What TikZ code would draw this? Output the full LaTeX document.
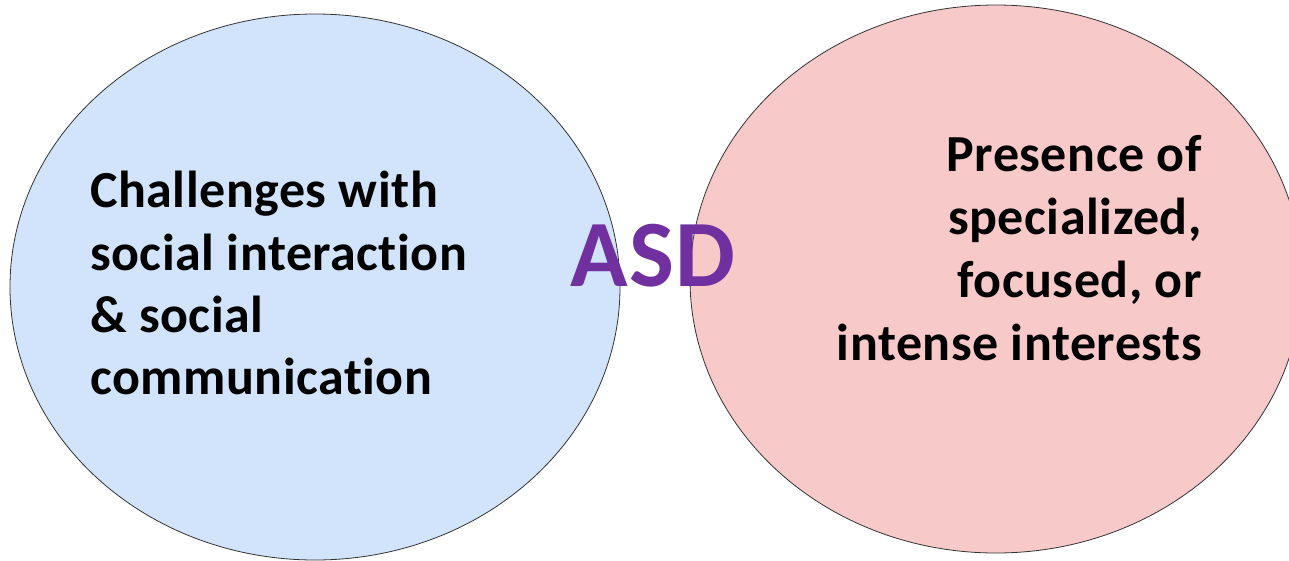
\documentclass[tikz,border=0pt]{standalone}
\usepackage{fontspec}
\setmainfont[Ligatures=NoCommon,LetterSpace=1]{Carlito}
\definecolor{socialblue}{RGB}{210,228,252}
\definecolor{interestpink}{RGB}{247,201,201}
\definecolor{asdpurple}{RGB}{112,48,160}
\begin{document}
\begin{tikzpicture}[x=1pt,y=-1pt,
  bubble/.style={draw=black!80,line width=0.8pt},
  linetext/.style={inner sep=0pt,font=\fontsize{52}{62}\selectfont\bfseries},
]
\useasboundingbox (0,0) rectangle (1289,560);
% the two trait areas
\draw[bubble,fill=socialblue] (315,287) ellipse [x radius=305,y radius=273];
\draw[bubble,fill=interestpink] (996,279) ellipse [x radius=306,y radius=274];
% left label, one node per line
\node[linetext,anchor=base west] (l1) at (90,207) {Challenges with};
\node[linetext,anchor=base west] (l2) at (90,270) {social interaction};
\node[linetext,anchor=base west] (l3) at (90,332) {\& social};
\node[linetext,anchor=base west] (l4) at (90,394) {communication};
% right label, right aligned
\node[linetext,anchor=base east] (r1) at (1202,171) {Presence of};
\node[linetext,anchor=base east] (r2) at (1202,234) {specialized,};
\node[linetext,anchor=base east] (r3) at (1202,297) {focused, or};
\node[linetext,anchor=base east] (r4) at (1202,360) {intense interests};
% centre title
\node[inner sep=0pt,anchor=base,text=asdpurple,font=\fontsize{95}{100}\selectfont\bfseries] (asd) at (653,286) {ASD};
\end{tikzpicture}
\end{document}
